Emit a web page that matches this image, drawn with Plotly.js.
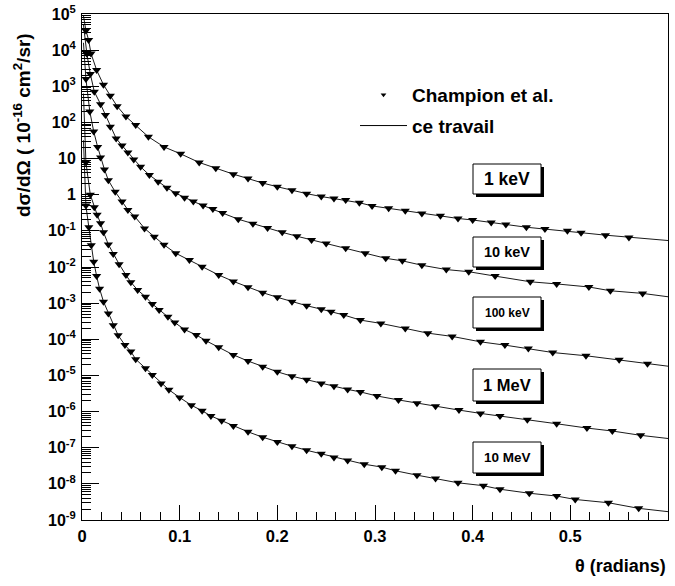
<!DOCTYPE html>
<html>
<head>
<meta charset="utf-8">
<script src="https://cdn.plot.ly/plotly-3.0.1.min.js"></script>
<style>html,body{margin:0;padding:0;background:#fff;}#chart{width:675px;height:586px;}</style>
</head>
<body>
<div id="chart"></div>
<script>
// Scattering angle θ (radians) and dσ/dΩ (10^-16 cm^2/sr).
// First and last entries of each pair are curve-only ("ce travail"); the rest are also markers (Champion et al.)
const theta1keV = [0.0015,0.004,0.0068,0.0092,0.015,0.022,0.029,0.036,0.045,0.055,0.068,0.084,0.101,0.12,0.137,0.155,0.17,0.185,0.2,0.215,0.23,0.245,0.258,0.27,0.284,0.297,0.314,0.331,0.348,0.367,0.385,0.4,0.419,0.434,0.455,0.474,0.497,0.511,0.536,0.56,0.6];
const sigma1keV = [8.9e4,3.5e4,1.9e4,8.1e3,2.8e3,1.1e3,550,280,145,85,40,21,13.5,7.8,5.4,3.7,2.8,2.1,1.66,1.32,1.07,0.89,0.79,0.71,0.60,0.49,0.42,0.36,0.30,0.26,0.22,0.20,0.17,0.15,0.126,0.112,0.100,0.089,0.076,0.066,0.054];

const theta10keV = [0.0015,0.005,0.0085,0.0126,0.019,0.024,0.029,0.035,0.041,0.047,0.053,0.06,0.069,0.078,0.087,0.096,0.105,0.114,0.124,0.134,0.144,0.16,0.175,0.19,0.205,0.22,0.235,0.25,0.27,0.29,0.311,0.328,0.348,0.373,0.396,0.423,0.459,0.486,0.519,0.541,0.574,0.6];
const sigma10keV = [5.0e4,7.9e3,2.2e3,710,320,160,76,36,23,14.8,9.5,5.9,3.5,2.3,1.55,1.10,0.83,0.65,0.50,0.40,0.31,0.21,0.158,0.12,0.091,0.071,0.056,0.045,0.033,0.024,0.0174,0.0148,0.0112,0.0085,0.0074,0.0056,0.0039,0.0034,0.0028,0.0022,0.00186,0.0015];

const theta100keV = [0.0015,0.004,0.008,0.012,0.016,0.019,0.023,0.027,0.034,0.041,0.047,0.054,0.064,0.074,0.084,0.096,0.11,0.123,0.14,0.155,0.17,0.185,0.2,0.215,0.23,0.245,0.255,0.268,0.285,0.306,0.331,0.354,0.379,0.408,0.433,0.457,0.482,0.516,0.55,0.579,0.6];
const sigma100keV = [1.6e4,1.6e3,200,56,21,10.7,5.0,2.5,1.2,0.65,0.38,0.25,0.117,0.069,0.041,0.024,0.0155,0.0102,0.0060,0.0040,0.00275,0.00195,0.00145,0.0011,8.5e-4,6.8e-4,5.8e-4,4.7e-4,3.4e-4,2.75e-4,2.0e-4,1.48e-4,1.2e-4,8.5e-5,6.9e-5,5.6e-5,4.3e-5,3.5e-5,2.7e-5,2.1e-5,1.8e-5];

const theta1MeV = [0.0015,0.004,0.0085,0.0126,0.0155,0.019,0.022,0.027,0.032,0.038,0.045,0.05,0.057,0.065,0.072,0.079,0.088,0.095,0.105,0.117,0.127,0.14,0.155,0.17,0.185,0.2,0.215,0.23,0.245,0.258,0.272,0.285,0.302,0.324,0.343,0.362,0.386,0.408,0.428,0.456,0.486,0.517,0.543,0.572,0.6];
const sigma1MeV = [630,7.9,1.0,0.45,0.28,0.162,0.091,0.042,0.023,0.012,0.006,0.0038,0.0023,0.0015,9.5e-4,6.5e-4,4.2e-4,2.9e-4,1.86e-4,1.32e-4,9.1e-5,6.0e-5,3.7e-5,2.5e-5,1.74e-5,1.26e-5,9.5e-6,7.6e-6,6.0e-6,5.0e-6,4.1e-6,3.5e-6,2.7e-6,2.1e-6,1.7e-6,1.41e-6,1.1e-6,8.9e-7,7.6e-7,5.9e-7,4.6e-7,3.5e-7,2.9e-7,2.2e-7,1.8e-7];

const theta10MeV = [0.0015,0.004,0.007,0.0095,0.012,0.015,0.018,0.022,0.027,0.032,0.037,0.044,0.05,0.055,0.065,0.072,0.081,0.089,0.1,0.112,0.123,0.132,0.143,0.155,0.17,0.185,0.2,0.215,0.23,0.245,0.258,0.272,0.289,0.307,0.321,0.343,0.362,0.385,0.411,0.428,0.458,0.486,0.505,0.539,0.57,0.6];
const sigma10MeV = [32,0.5,0.126,0.04,0.014,0.0056,0.0025,0.0011,5.2e-4,2.45e-4,1.29e-4,6.9e-5,4.6e-5,2.8e-5,1.58e-5,1.02e-5,6.0e-6,4.0e-6,2.45e-6,1.5e-6,1.05e-6,7.6e-7,5.6e-7,4.0e-7,2.75e-7,1.95e-7,1.45e-7,1.1e-7,8.5e-8,6.8e-8,5.4e-8,4.4e-8,3.5e-8,2.9e-8,2.3e-8,1.74e-8,1.41e-8,1.07e-8,8.9e-9,7.1e-9,5.5e-9,4.6e-9,3.7e-9,3.0e-9,2.1e-9,1.7e-9];

const energyLabels = ["1 keV","10 keV","100 keV","1 MeV","10 MeV"];
const legendNames = ["Champion et al.","ce travail"];
const xTickVals = [0,0.1,0.2,0.3,0.4,0.5,0.6];
const xTickText = ["0","0.1","0.2","0.3","0.4","0.5","0.6"];
const yTickVals = [1e5,1e4,1e3,1e2,10,1,1e-1,1e-2,1e-3,1e-4,1e-5,1e-6,1e-7,1e-8,1e-9];
const yTickText = ["10<sup>5</sup>","10<sup>4</sup>","10<sup>3</sup>","10<sup>2</sup>","10","1","10<sup>-1</sup>","10<sup>-2</sup>","10<sup>-3</sup>","10<sup>-4</sup>","10<sup>-5</sup>","10<sup>-6</sup>","10<sup>-7</sup>","10<sup>-8</sup>","10<sup>-9</sup>"];

const series = [
  [theta1keV, sigma1keV],
  [theta10keV, sigma10keV],
  [theta100keV, sigma100keV],
  [theta1MeV, sigma1MeV],
  [theta10MeV, sigma10MeV]
];

const FONT = 'Liberation Sans, Arial, Helvetica';
const traces = [];
series.forEach(function(s){
  traces.push({
    x: s[0], y: s[1], type: 'scatter', mode: 'lines',
    line: {color: '#1a1a1a', width: 1},
    name: legendNames[1], showlegend: false, hoverinfo: 'skip'
  });
});
series.forEach(function(s){
  traces.push({
    x: s[0].slice(1, -1), y: s[1].slice(1, -1), type: 'scatter', mode: 'markers',
    marker: {symbol: 'triangle-down', size: 8, color: '#000'},
    name: legendNames[0], showlegend: false
  });
});
// legend entries (no data of their own)
traces.push({x:[null], y:[null], type:'scatter', mode:'markers', marker:{symbol:'triangle-down', size:5, color:'#000'},
  name: legendNames[0], showlegend:true, legendgroup:'a', legendrank:1});
traces.push({x:[null], y:[null], type:'scatter', mode:'lines', line:{color:'#000', width:1},
  name: legendNames[1], showlegend:true, legendgroup:'b', legendrank:2});

const W = 586, H = 506, L = 82, T = 14;
function px(x){ return (x - L) / W; }
function py(y){ return 1 - (y - T) / H; }

const boxes = [
  {y0: 164, y1: 194, size: 17.5},
  {y0: 237, y1: 267, size: 14.5},
  {y0: 297, y1: 328, size: 12},
  {y0: 369, y1: 401, size: 16.5},
  {y0: 442, y1: 473, size: 13.5}
];
const shapes = [];
const annotations = [];
boxes.forEach(function(b, i){
  shapes.push({type:'rect', xref:'paper', yref:'paper', x0: px(476), x1: px(544), y0: py(b.y1+3), y1: py(b.y0+3), fillcolor:'#000', line:{width:0}});
  shapes.push({type:'rect', xref:'paper', yref:'paper', x0: px(473), x1: px(541), y0: py(b.y1), y1: py(b.y0), fillcolor:'#fff', line:{color:'#000', width:1}});
  annotations.push({xref:'paper', yref:'paper', x: px(507), y: py((b.y0+b.y1)/2), text: energyLabels[i], showarrow:false,
    font:{family: FONT, size: b.size, color:'#000', weight:'bold'}, xanchor:'center', yanchor:'middle'});
});
annotations.push({xref:'paper', yref:'paper', x: 1.0, y: py(566), text: 'θ (radians)', showarrow:false,
  xanchor:'right', yanchor:'middle', font:{family: FONT, size:18, color:'#000', weight:'bold'}});
annotations.push({xref:'paper', yref:'paper', x: px(22), y: py(125), text: 'dσ/dΩ ( 10<sup>-16</sup> cm<sup>2</sup>/sr)', showarrow:false,
  textangle: -90, xanchor:'center', yanchor:'middle', font:{family: FONT, size:19, color:'#000', weight:'bold'}});

const layout = {
  width: 675, height: 586,
  margin: {l: L, r: 675 - L - W, t: T, b: 586 - T - H},
  paper_bgcolor: '#fff', plot_bgcolor: '#fff',
  showlegend: true,
  legend: {x: px(355), y: py(76), xanchor:'left', yanchor:'top', bgcolor:'rgba(0,0,0,0)', borderwidth:0,
    font:{family: FONT, size:19, color:'#000', weight:'bold'}, traceorder:'grouped', tracegroupgap: 3, itemwidth: 47},
  xaxis: {range: [0, 0.6], tickmode:'array', tickvals: xTickVals, ticktext: xTickText,
    ticks:'inside', ticklen: 15, tickcolor:'#000', tickwidth: 1,
    minor: {ticks:'inside', ticklen: 8, dtick: 0.02, tick0: 0, tickcolor:'#000', showgrid:false},
    showline: true, linecolor:'#000', linewidth: 1, mirror: true, showgrid:false, zeroline:false,
    tickfont: {family: FONT, size: 16.5, color:'#000', weight:'bold'}, ticklabelstandoff: 1},
  yaxis: {type:'log', range: [-9, 5], tickmode:'array', tickvals: yTickVals, ticktext: yTickText,
    ticks:'inside', ticklen: 17, tickcolor:'#000', tickwidth: 1,
    minor: {ticks:'inside', ticklen: 9, dtick:'D1', tickcolor:'#000', showgrid:false},
    showline: true, linecolor:'#000', linewidth: 1, mirror: true, showgrid:false, zeroline:false,
    tickfont: {family: FONT, size: 16, color:'#000', weight:'bold'}, ticklabelstandoff: 2},
  shapes: shapes,
  annotations: annotations
};

Plotly.newPlot('chart', traces, layout, {displayModeBar: false, staticPlot: true});
</script>
</body>
</html>
